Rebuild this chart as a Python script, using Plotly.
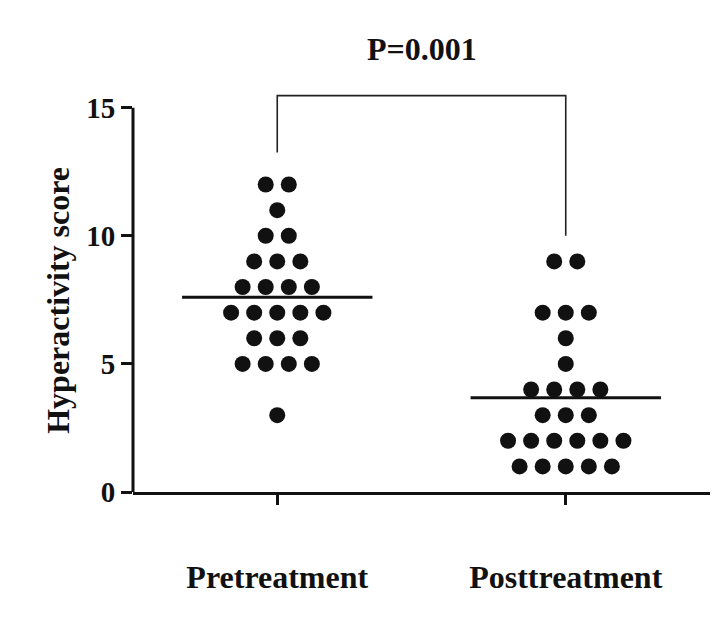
import plotly.graph_objects as go
from collections import Counter

categories = ["Pretreatment", "Posttreatment"]
pre_scores = [12]*2 + [11]*1 + [10]*2 + [9]*3 + [8]*4 + [7]*5 + [6]*3 + [5]*4 + [3]*1
post_scores = [9]*2 + [7]*3 + [6]*1 + [5]*1 + [4]*4 + [3]*3 + [2]*6 + [1]*5
p_label = "P=0.001"
y_ticks = [0, 5, 10, 15]

FONT = "Times New Roman, Liberation Serif, serif"
INK = "#111111"
DOT_STEP = 0.08
HALF = 0.33
Y_MAX = 16

def swarm(values, center):
    xs, ys = [], []
    counts = Counter(values)
    for v in sorted(counts):
        n = counts[v]
        for i in range(n):
            xs.append(center + (i - (n - 1) / 2) * DOT_STEP)
            ys.append(v)
    return xs, ys


fig = go.Figure()
groups = [pre_scores, post_scores]
for idx, vals in enumerate(groups):
    xs, ys = swarm(vals, idx)
    fig.add_trace(go.Scatter(x=xs, y=ys, mode="markers",
                             marker=dict(size=16, color=INK, line=dict(width=0)),
                             showlegend=False, cliponaxis=False))
    mean = sum(vals) / len(vals)
    fig.add_shape(type="line", x0=idx - HALF, x1=idx + HALF, y0=mean, y1=mean,
                  xref="x", yref="y", line=dict(color=INK, width=3))

# y axis line from 0 to 15
fig.add_shape(type="line", xref="paper", yref="y", x0=0, x1=0, y0=0, y1=max(y_ticks),
              line=dict(color=INK, width=3))

# significance bracket
top = 15.47
fig.add_shape(type="path", xref="x", yref="y",
              path=f"M 0,13.25 L 0,{top} L 1,{top} L 1,10.0",
              line=dict(color="#222222", width=1.6))
fig.add_annotation(x=0.5, y=17.27 / Y_MAX, xref="x", yref="paper", text=f"<b>{p_label}</b>",
                   xanchor="center", yanchor="middle",
                   showarrow=False, font=dict(family=FONT, size=32, color=INK))

fig.add_annotation(x=-0.13, y=7.5, xref="paper", yref="y", text="<b>Hyperactivity score</b>",
                   xanchor="center", yanchor="middle",
                   textangle=-90, showarrow=False, font=dict(family=FONT, size=32, color=INK))

fig.update_layout(
    width=702, height=601,
    margin=dict(l=125, r=0, t=74, b=117),
    paper_bgcolor="white", plot_bgcolor="white",
    font=dict(family=FONT, color=INK),
    xaxis=dict(range=[-0.5, 1.5], tickvals=[0, 1], ticktext=[f"<b>{c}</b>" for c in categories],
               showline=True, linecolor=INK, linewidth=3, ticks="outside", ticklen=10,
               tickwidth=3, tickcolor=INK, showgrid=False, zeroline=False,
               tickfont=dict(family=FONT, size=32, color=INK), ticklabelstandoff=45),
    yaxis=dict(range=[0, Y_MAX], tickvals=y_ticks, ticktext=[f"<b>{t}</b>" for t in y_ticks],
               showline=False, ticks="outside", ticklen=11, tickwidth=3, tickcolor=INK,
               showgrid=False, zeroline=False,
               tickfont=dict(family=FONT, size=29, color=INK)),
)

fig.write_html("out.html")
